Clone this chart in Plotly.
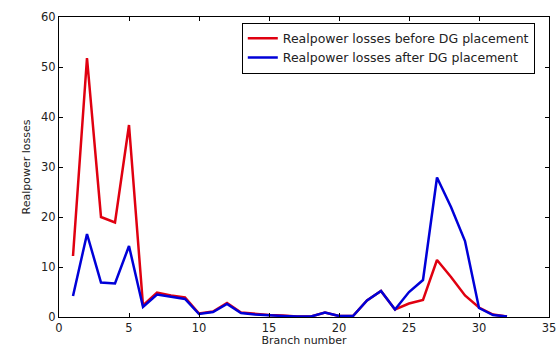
import plotly.graph_objects as go

branch = list(range(1, 33))
before = [12.2, 51.8, 20.0, 18.9, 38.4, 2.3, 4.9, 4.3, 3.9, 0.7,
          1.1, 2.8, 0.9, 0.6, 0.4, 0.3, 0.1, 0.1, 0.9, 0.2,
          0.2, 3.3, 5.2, 1.5, 2.7, 3.4, 11.4, 8.0, 4.3, 1.9,
          0.5, 0.1]
after = [4.2, 16.6, 6.9, 6.7, 14.2, 2.0, 4.5, 4.0, 3.6, 0.6,
         1.0, 2.6, 0.8, 0.5, 0.3, 0.2, 0.1, 0.1, 0.9, 0.2,
         0.2, 3.3, 5.2, 1.5, 5.0, 7.4, 27.9, 22.0, 15.2, 1.8,
         0.4, 0.1]

fig = go.Figure()
fig.add_trace(go.Scatter(x=branch, y=before, mode="lines",
                         name="Realpower losses before DG placement",
                         line=dict(color="#e00010", width=2.5)))
fig.add_trace(go.Scatter(x=branch, y=after, mode="lines",
                         name="Realpower losses after DG placement",
                         line=dict(color="#0000d8", width=2.5)))

axis_common = dict(showgrid=False, zeroline=False, showline=True, linecolor="black",
                   linewidth=1, mirror="allticks", ticks="inside", ticklen=4,
                   tickcolor="black", tickfont=dict(size=11.5, color="#222"),
                   automargin=False)

fig.update_layout(
    width=558, height=347,
    margin=dict(l=59, r=9, t=17, b=30),
    paper_bgcolor="white", plot_bgcolor="white",
    font=dict(family="DejaVu Sans, sans-serif", size=12, color="#222"),
    xaxis=dict(range=[0, 35], dtick=5, title=dict(text="Branch number", standoff=3,
               font=dict(size=11)), **axis_common),
    yaxis=dict(range=[0, 60], dtick=10, title=dict(text="Realpower losses", standoff=8,
               font=dict(size=11)), **axis_common),
    legend=dict(x=0.971, y=0.981, xanchor="right", yanchor="top",
                bgcolor="white", bordercolor="black", borderwidth=1,
                font=dict(size=12.5), tracegroupgap=0, itemwidth=30),
    showlegend=True,
)

fig.write_html("out.html")
